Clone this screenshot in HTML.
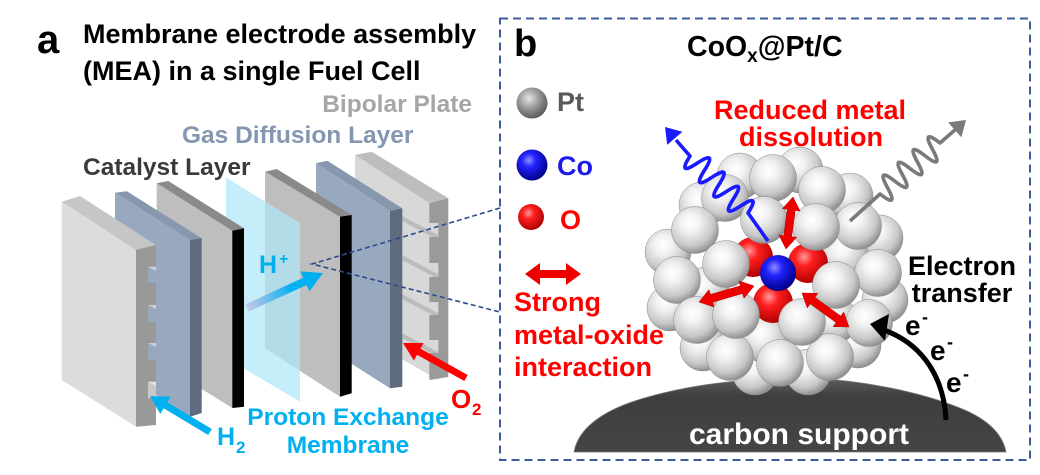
<!DOCTYPE html>
<html><head><meta charset="utf-8"><style>
html,body{margin:0;padding:0;background:#fff;}
svg{display:block;}
text{font-family:"Liberation Sans",Arial,sans-serif;font-weight:bold;}
</style></head><body>
<svg width="1040" height="475" viewBox="0 0 1040 475" xmlns="http://www.w3.org/2000/svg">
<defs>
<radialGradient id="gs" cx="40%" cy="35%" r="65%">
<stop offset="0" stop-color="#ffffff"/><stop offset="0.3" stop-color="#f2f2f2"/><stop offset="0.75" stop-color="#c8c8c8"/><stop offset="1" stop-color="#929292"/>
</radialGradient>
<radialGradient id="gpt" cx="40%" cy="35%" r="65%">
<stop offset="0" stop-color="#e6e6e6"/><stop offset="0.5" stop-color="#9a9a9a"/><stop offset="1" stop-color="#5c5c5c"/>
</radialGradient>
<radialGradient id="gco" cx="40%" cy="35%" r="65%">
<stop offset="0" stop-color="#9090ff"/><stop offset="0.35" stop-color="#2222ff"/><stop offset="1" stop-color="#000088"/>
</radialGradient>
<radialGradient id="go" cx="40%" cy="35%" r="65%">
<stop offset="0" stop-color="#ff9a9a"/><stop offset="0.35" stop-color="#ff2020"/><stop offset="1" stop-color="#b00000"/>
</radialGradient>
<linearGradient id="gh" gradientUnits="userSpaceOnUse" x1="247" y1="308" x2="323" y2="273">
<stop offset="0" stop-color="#c8c8e6"/><stop offset="0.6" stop-color="#00b0f0"/>
</linearGradient>
<linearGradient id="gc" x1="0" y1="0" x2="0" y2="1">
<stop offset="0" stop-color="#5e5e5e"/><stop offset="0.25" stop-color="#3e3e3e"/><stop offset="1" stop-color="#454545"/>
</linearGradient>
</defs>

<!-- Panel a text -->
<text x="37" y="53" font-size="40" fill="#000">a</text>
<text x="83" y="43" font-size="27" fill="#000">Membrane electrode assembly</text>
<text x="83" y="80" font-size="27" fill="#000">(MEA) in a single Fuel Cell</text>
<text x="472" y="112" font-size="24.5" fill="#a6a6a6" text-anchor="end">Bipolar Plate</text>
<text x="182" y="143" font-size="24.5" fill="#8497b0">Gas Diffusion Layer</text>
<text x="83" y="175" font-size="24.5" fill="#3a3a3a">Catalyst Layer</text>

<!-- Plate 6: cathode bipolar plate -->
<polygon points="355,155 371.7,151.7 448.3,198.3 429.3,203.3" fill="#bdbdbd"/>
<polygon points="355,155 429.3,203.3 438.3,209 438.3,380 355,332" fill="#d8d8d8"/>
<polygon points="402,216 438,235 438,240 402,221" fill="#bcbcbc"/>
<polygon points="402,255 438,274 438,279 402,260" fill="#bcbcbc"/>
<polygon points="402,294 438,313 438,318 402,299" fill="#bcbcbc"/>
<polygon points="402,333 438,352 438,357 402,338" fill="#bcbcbc"/>
<path d="M429.3,203.3 L448.3,198.3 L448.3,377 L429.3,380 L429.3,353 L438.3,353 L438.3,340 L429.3,340 L429.3,315 L438.3,315 L438.3,302 L429.3,302 L429.3,277 L438.3,277 L438.3,263 L429.3,263 L429.3,237 L438.3,237 L438.3,223 L429.3,223 Z" fill="#9a9a9a"/>

<!-- GDL5 -->
<polygon points="316,163.3 327.3,160.7 402.3,208.3 390,210.7" fill="#8797ae"/>
<polygon points="316,163.3 390,210.7 390,388.3 316,341" fill="#97a8bf"/>
<polygon points="390,210.7 402.3,208.3 402.3,386.7 390,388.3" fill="#5f6c7f"/>

<!-- Plate 4: cathode catalyst -->
<polygon points="265,171.7 276.7,169 351.7,215 340,216.7" fill="#8a8a8a"/>
<polygon points="265,171.7 340,216.7 340,396.7 265,348.3" fill="#bebebe"/>
<polygon points="340,216.7 351.7,215 351.7,393.3 340,396.7" fill="#000"/>

<!-- PEM -->
<polygon points="226,177.3 300,223.3 300,401.7 226,358" fill="#b0e8f8" fill-opacity="0.72"/>

<!-- Plate 3: anode catalyst -->
<polygon points="156.7,183.3 168.3,181 244,228.3 232.3,230.7" fill="#8a8a8a"/>
<polygon points="156.7,183.3 232.3,230.7 232.3,408 156.7,361" fill="#bebebe"/>
<polygon points="232.3,230.7 244,228.3 244,406.7 232.3,408" fill="#000"/>

<!-- GDL2 -->
<polygon points="115,192.7 126.7,191.2 201.7,238.3 190,240" fill="#8797ae"/>
<polygon points="115,192.7 190,240 190,416.7 115,369" fill="#97a8bf"/>
<polygon points="190,240 201.7,238.3 201.7,413 190,416.7" fill="#5f6c7f"/>

<!-- Plate 1: anode bipolar plate -->
<polygon points="61.7,201.7 80,196 156,245 136,250" fill="#c6c6c6"/>
<polygon points="61.7,201.7 136,250 136,426.7 61.7,380" fill="#dcdcdc"/>
<polygon points="136,250 156,245 156,425 136,426.7" fill="#999999"/>
<rect x="148" y="266.7" width="8" height="16.3" fill="#97a8bf"/>
<rect x="148" y="305" width="8" height="16.7" fill="#97a8bf"/>
<rect x="148" y="343" width="8" height="17" fill="#97a8bf"/>
<rect x="148" y="381.7" width="8" height="16.3" fill="#c8c8c8"/>
<polygon points="148,266.7 156,266.7 156,271" fill="#d0d0d0"/>
<polygon points="148,305 156,305 156,309" fill="#d0d0d0"/>
<polygon points="148,343 156,343 156,347" fill="#d0d0d0"/>
<polygon points="148,381.7 156,381.7 156,386" fill="#e0e0e0"/>

<!-- dashed connectors -->
<polyline points="500,208 312,264 500,312" fill="none" stroke="#2f4d8c" stroke-width="1.6" stroke-dasharray="5,3"/>

<!-- H+ arrow -->
<polygon points="248.67,311.63 306.51,284.99 309.44,291.35 323,273 300.24,271.37 303.17,277.73 245.33,304.37" fill="url(#gh)"/>
<text x="259" y="273" font-size="25" fill="#00b0f0">H</text>
<text x="279" y="264" font-size="16" fill="#00b0f0">+</text>

<!-- H2 arrow -->
<polygon points="211.8,429 167.24,402.26 170.59,396.69 150,396 160.3,413.84 163.64,408.26 208.2,435" fill="#00b0f0"/>
<text x="217" y="445" font-size="25" fill="#00b0f0">H</text>
<text x="236" y="453" font-size="17" fill="#00b0f0">2</text>

<!-- O2 arrow -->
<polygon points="467.7,374.94 420.43,348.68 423.59,343 403,343 413.87,360.48 417.03,354.8 464.3,381.06" fill="#ff0000"/>
<text x="451" y="408" font-size="26" fill="#ff0000">O</text>
<text x="472" y="415" font-size="17" fill="#ff0000">2</text>

<text x="348" y="425" font-size="24.5" fill="#00b0f0" text-anchor="middle">Proton Exchange</text>
<text x="348" y="453" font-size="24.5" fill="#00b0f0" text-anchor="middle">Membrane</text>

<!-- Panel b box -->
<rect x="500" y="18.5" width="530" height="441.5" fill="none" stroke="#3c5d9c" stroke-width="2" stroke-dasharray="8,5"/>
<text x="514" y="56" font-size="38" fill="#000">b</text>
<text x="687" y="56" font-size="28.5" fill="#000">CoO<tspan font-size="19" dy="6">x</tspan><tspan dy="-6">@Pt/C</tspan></text>

<!-- legend -->
<circle cx="532" cy="103" r="15.5" fill="url(#gpt)"/>
<text x="557" y="111" font-size="27" fill="#595959">Pt</text>
<circle cx="532" cy="165" r="15.5" fill="url(#gco)"/>
<text x="557" y="175" font-size="27" fill="#1a1aee">Co</text>
<circle cx="531" cy="217" r="13" fill="url(#go)"/>
<text x="560" y="229" font-size="27" fill="#ff0000">O</text>
<polygon points="525,274 540,263 540,270 566,270 566,263 581,274 566,285 566,278 540,278 540,285" fill="#ee0000"/>
<text x="514" y="311" font-size="27" fill="#ff0000">Strong</text>
<text x="514" y="344" font-size="27" fill="#ff0000">metal-oxide</text>
<text x="514" y="376" font-size="27" fill="#ff0000">interaction</text>

<text x="810" y="119" font-size="27" fill="#ff0000" text-anchor="middle">Reduced metal</text>
<text x="811" y="146" font-size="27" fill="#ff0000" text-anchor="middle">dissolution</text>

<text x="962" y="275" font-size="27" fill="#000" text-anchor="middle">Electron</text>
<text x="962" y="302" font-size="27" fill="#000" text-anchor="middle">transfer</text>

<!-- carbon support -->
<path d="M574,452 C578,430 600,410 648,397 C700,382 760,378 800,378 C860,379 920,392 960,408 C990,420 1003,436 1006,452 Z" fill="url(#gc)" stroke="#7a7a7a" stroke-width="0.8"/>
<text x="799" y="444" font-size="30" fill="#fff" text-anchor="middle">carbon support</text>

<!-- nanoparticle back layer -->
<g fill="url(#gs)" stroke="#8a8a8a" stroke-width="0.5">
<circle cx="740" cy="176" r="23"/>
<circle cx="800" cy="170" r="23"/>
<circle cx="850" cy="196" r="23"/>
<circle cx="702" cy="205" r="23"/>
<circle cx="880" cy="238" r="23"/>
<circle cx="668" cy="252" r="23"/>
<circle cx="885" cy="300" r="23"/>
<circle cx="670" cy="308" r="23"/>
<circle cx="858" cy="345" r="23"/>
<circle cx="703" cy="348" r="23"/>
<circle cx="755" cy="372" r="23"/>
<circle cx="808" cy="372" r="23"/>
<circle cx="845" cy="255" r="23"/>
<circle cx="706" cy="290" r="23"/>
<circle cx="765" cy="340" r="23"/>
<circle cx="835" cy="320" r="23"/>
</g>
<!-- outer front -->
<g fill="url(#gs)" stroke="#8a8a8a" stroke-width="0.5">
<circle cx="725" cy="198" r="23.5"/>
<circle cx="773" cy="178" r="23.5"/>
<circle cx="822" cy="190" r="23.5"/>
<circle cx="695" cy="230" r="23.5"/>
<circle cx="858" cy="226" r="23.5"/>
<circle cx="677" cy="280" r="23.5"/>
<circle cx="878" cy="273" r="23.5"/>
<circle cx="697" cy="320" r="23.5"/>
<circle cx="869" cy="323" r="23.5"/>
<circle cx="730" cy="357" r="23.5"/>
<circle cx="780" cy="363" r="23.5"/>
<circle cx="830" cy="357" r="23.5"/>
</g>
<!-- oxygen -->
<circle cx="753" cy="257" r="20" fill="url(#go)"/>
<circle cx="808" cy="263" r="20" fill="url(#go)"/>
<circle cx="773" cy="303" r="20" fill="url(#go)"/>
<!-- inner front -->
<g fill="url(#gs)" stroke="#8a8a8a" stroke-width="0.5">
<circle cx="764" cy="220" r="23.5"/>
<circle cx="816" cy="227" r="23.5"/>
<circle cx="726" cy="264" r="23.5"/>
<circle cx="836" cy="285" r="23.5"/>
<circle cx="736" cy="315" r="23.5"/>
<circle cx="802" cy="322" r="23.5"/>
</g>
<circle cx="778" cy="273" r="18" fill="url(#gco)"/>

<!-- red double arrows -->
<g fill="#ee0000" stroke="#b00000" stroke-width="0.5">
<polygon points="793,197 800.19,211.08 795.23,210.41 791.69,236.65 796.65,237.32 786,249 778.81,234.92 783.77,235.59 787.31,209.35 782.35,208.68"/>
<polygon points="699,302 713.99,307.01 712.6,302.21 742.64,293.47 744.03,298.27 754,286 739.01,280.99 740.4,285.79 710.36,294.53 708.97,289.73"/>
<polygon points="802,293 807.26,307.91 810.19,303.86 836.13,322.62 833.2,326.67 849,327 843.74,312.09 840.81,316.14 814.87,297.38 817.8,293.33"/>
</g>

<!-- blue wave -->
<path d="M768,241 L748,213 Q761.2,192.33 740.75,205.88 Q720.31,219.43 733.5,198.76 Q746.7,178.09 726.25,191.64 Q705.81,205.19 719,184.52 Q732.2,163.85 711.75,177.4 Q691.31,190.95 704.5,170.28 Q717.7,149.61 697.25,163.16 Q676.81,176.71 690,156.04 L676,140" fill="none" stroke="#1a1aff" stroke-width="3.6" stroke-linejoin="round"/>
<polygon points="665,127 682.4,131.8 667.2,144.9" fill="#1a1aff"/>

<!-- gray wave -->
<path d="M850,221 L880,194 Q899.3,209.1 887.5,187.63 Q875.7,166.15 895,181.25 Q914.3,196.35 902.5,174.88 Q890.7,153.4 910,168.5 Q929.3,183.6 917.5,162.13 Q905.7,140.65 925,155.75 Q944.3,170.85 932.5,149.38 Q920.7,127.9 940,143 L956,129" fill="none" stroke="#7a7a7a" stroke-width="3.6" stroke-linejoin="round"/>
<polygon points="966,120 961.4,137.4 948.1,122.4" fill="#7a7a7a"/>

<!-- electron transfer arrow -->
<path d="M946,420 C944,380 925,345 884,330" fill="none" stroke="#000" stroke-width="5"/>
<polygon points="870,324 889,314 885,341" fill="#000"/>
<text x="905" y="335" font-size="28" fill="#000">e</text>
<text x="922" y="323" font-size="18" fill="#000">-</text>
<text x="930" y="360" font-size="28" fill="#000">e</text>
<text x="947" y="348" font-size="18" fill="#000">-</text>
<text x="946" y="392" font-size="28" fill="#000">e</text>
<text x="963" y="380" font-size="18" fill="#000">-</text>
</svg>
</body></html>
